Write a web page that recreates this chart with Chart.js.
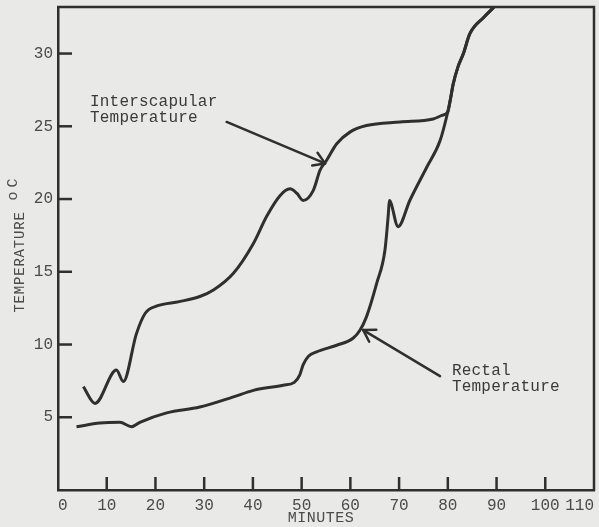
<!DOCTYPE html>
<html>
<head>
<meta charset="utf-8">
<title>Interscapular and rectal temperature</title>
<script src="https://cdn.jsdelivr.net/npm/chart.js@4/dist/chart.umd.min.js"></script>
<style>
  html, body { margin: 0; padding: 0; background: #e9e9e7; }
  canvas { display: block; }
</style>
</head>
<body>
<canvas id="chart" width="599" height="527"></canvas>
<script>
// Minutes and temperatures (°C) along the interscapular trace
const minutesInterscapular = [5.2, 7.6, 12.0, 13.4, 16.1, 17.9, 20.3, 24.9, 29.1, 31.9, 36.0, 40.1, 42.8, 45.6, 47.6, 49.0, 50.3, 52.4, 53.8, 55.1, 57.2, 59.9, 63.3, 70.2, 77.0, 78.8, 80.0, 80.5, 81.1, 82.1, 83.2, 84.5, 87.4, 89.5];
const interscapularTemp    = [7.1, 5.95, 8.25, 7.45, 10.75, 12.15, 12.65, 12.95, 13.3, 13.75, 14.9, 16.95, 18.8, 20.25, 20.7, 20.4, 19.9, 20.6, 22.0, 22.65, 23.8, 24.6, 25.05, 25.3, 25.5, 25.75, 26.0, 26.8, 27.9, 29.1, 30.0, 31.35, 32.5, 33.2];

// Minutes and temperatures (°C) along the rectal trace
const minutesRectal = [3.8, 8.6, 12.7, 15.1, 16.8, 22.3, 29.1, 36.0, 40.1, 46.2, 48.5, 49.6, 50.3, 51.4, 53.1, 57.2, 60.6, 62.0, 63.3, 65.4, 67.1, 67.8, 68.0, 69.8, 72.2, 75.7, 78.4, 80.0, 80.5, 81.1, 82.1, 83.2, 84.5, 87.4, 89.5];
const rectalTemp    = [4.35, 4.6, 4.65, 4.35, 4.65, 5.3, 5.7, 6.4, 6.85, 7.2, 7.4, 7.9, 8.6, 9.2, 9.5, 9.95, 10.45, 11.0, 11.9, 14.2, 16.5, 19.0, 19.9, 18.1, 19.9, 22.2, 24.0, 26.0, 26.8, 27.9, 29.1, 30.0, 31.35, 32.5, 33.2];

// Axis ticks
const minuteTicks = [0, 10, 20, 30, 40, 50, 60, 70, 80, 90, 100, 110];
const tempTicks = [5, 10, 15, 20, 25, 30];

// Callout labels with arrows, in data units
const callouts = [
  { lines: ['Interscapular', 'Temperature'], textX: 6.57, textY: [26.67, 25.6], tail: [34.6, 25.3], head: [54.8, 22.45] },
  { lines: ['Rectal', 'Temperature'], textX: 80.85, textY: [8.19, 7.09], tail: [78.4, 7.83], head: [62.65, 10.99] }
];

const ink = '#2f2f2f';
const textInk = '#4a4a4a';
const mono = '"Liberation Mono", "DejaVu Sans Mono", monospace';

function toPoints(xs, ys) {
  return xs.map((m, i) => ({ x: m, y: ys[i] }));
}

function line(ctx, x1, y1, x2, y2) {
  ctx.beginPath();
  ctx.moveTo(x1, y1);
  ctx.lineTo(x2, y2);
  ctx.stroke();
}

// Frame, inward tick marks, axis titles and arrowed callouts
const framePlugin = {
  id: 'frame',
  afterDraw(chart) {
    const { ctx, chartArea: a, scales: { x, y } } = chart;
    ctx.save();
    ctx.strokeStyle = ink;
    ctx.lineWidth = 2.5;
    ctx.beginPath();
    ctx.moveTo(a.left - 1, a.top);
    ctx.lineTo(a.right, a.top);
    ctx.lineTo(a.right, a.bottom + 1);
    ctx.stroke();

    x.ticks.forEach(t => {
      if (t.value <= x.min || t.value >= x.max) return;
      const px = x.getPixelForValue(t.value);
      line(ctx, px, a.bottom, px, a.bottom - 13);
    });
    y.ticks.forEach(t => {
      const py = y.getPixelForValue(t.value);
      line(ctx, a.left, py, a.left + 14, py);
    });

    // y-axis title, rotated
    ctx.fillStyle = textInk;
    ctx.save();
    ctx.translate(20, 262);
    ctx.rotate(-Math.PI / 2);
    ctx.font = '14px ' + mono;
    ctx.letterSpacing = '0.8px';
    ctx.textAlign = 'center';
    ctx.textBaseline = 'middle';
    ctx.fillText('TEMPERATURE', 0, 0);
    ctx.restore();
    ctx.save();
    ctx.translate(13, 190);
    ctx.rotate(-Math.PI / 2);
    ctx.font = '15px ' + mono;
    ctx.textAlign = 'center';
    ctx.textBaseline = 'middle';
    ctx.fillText('o', -6, 0);
    ctx.fillText('C', 7, 0);
    ctx.restore();

    // x-axis title
    ctx.font = '15px ' + mono;
    ctx.letterSpacing = '0.5px';
    ctx.textAlign = 'center';
    ctx.textBaseline = 'middle';
    ctx.fillText('MINUTES', 321, 518);

    // callouts
    ctx.font = '16px ' + mono;
    ctx.letterSpacing = '0.2px';
    ctx.textAlign = 'left';
    ctx.fillStyle = '#3a3a3a';
    callouts.forEach(c => {
      const tx = x.getPixelForValue(c.textX);
      c.lines.forEach((s, i) => ctx.fillText(s, tx, y.getPixelForValue(c.textY[i])));
      const x1 = x.getPixelForValue(c.tail[0]), y1 = y.getPixelForValue(c.tail[1]);
      const x2 = x.getPixelForValue(c.head[0]), y2 = y.getPixelForValue(c.head[1]);
      ctx.lineWidth = 2.5;
      ctx.lineCap = 'round';
      line(ctx, x1, y1, x2, y2);
      const ang = Math.atan2(y1 - y2, x1 - x2);
      const len = 13, spread = 0.56;
      line(ctx, x2, y2, x2 + len * Math.cos(ang + spread), y2 + len * Math.sin(ang + spread));
      line(ctx, x2, y2, x2 + len * Math.cos(ang - spread), y2 + len * Math.sin(ang - spread));
    });
    ctx.restore();
  }
};

new Chart(document.getElementById('chart'), {
  type: 'line',
  data: {
    datasets: [
      {
        label: 'Interscapular Temperature',
        data: toPoints(minutesInterscapular, interscapularTemp),
        borderColor: ink,
        borderWidth: 3,
        pointRadius: 0,
        fill: false,
        cubicInterpolationMode: 'monotone'
      },
      {
        label: 'Rectal Temperature',
        data: toPoints(minutesRectal, rectalTemp),
        borderColor: ink,
        borderWidth: 3,
        pointRadius: 0,
        fill: false,
        cubicInterpolationMode: 'monotone'
      }
    ]
  },
  options: {
    responsive: false,
    animation: false,
    devicePixelRatio: 1,
    layout: { padding: { left: 34, top: 7, right: 5, bottom: 0 } },
    plugins: { legend: { display: false }, tooltip: { enabled: false } },
    scales: {
      x: {
        type: 'linear',
        min: 0,
        max: 110,
        afterBuildTicks: s => { s.ticks = minuteTicks.map(v => ({ value: v })); },
        afterFit: s => { s.height = 37; s.paddingLeft = 0; s.paddingRight = 0; },
        grid: { display: false, drawTicks: false },
        border: { display: true, color: ink, width: 2.5 },
        ticks: {
          autoSkip: false,
          maxRotation: 0,
          align: 'inner',
          padding: 6,
          color: textInk,
          font: { family: mono, size: 16 }
        }
      },
      y: {
        type: 'linear',
        min: 0,
        max: 33.2,
        afterBuildTicks: s => { s.ticks = tempTicks.map(v => ({ value: v })); },
        afterFit: s => { s.width = 24; s.paddingTop = 0; s.paddingBottom = 0; },
        grid: { display: false, drawTicks: false },
        border: { display: true, color: ink, width: 2.5 },
        ticks: {
          padding: 5,
          color: textInk,
          font: { family: mono, size: 16 }
        }
      }
    }
  },
  plugins: [framePlugin]
});
</script>
</body>
</html>
